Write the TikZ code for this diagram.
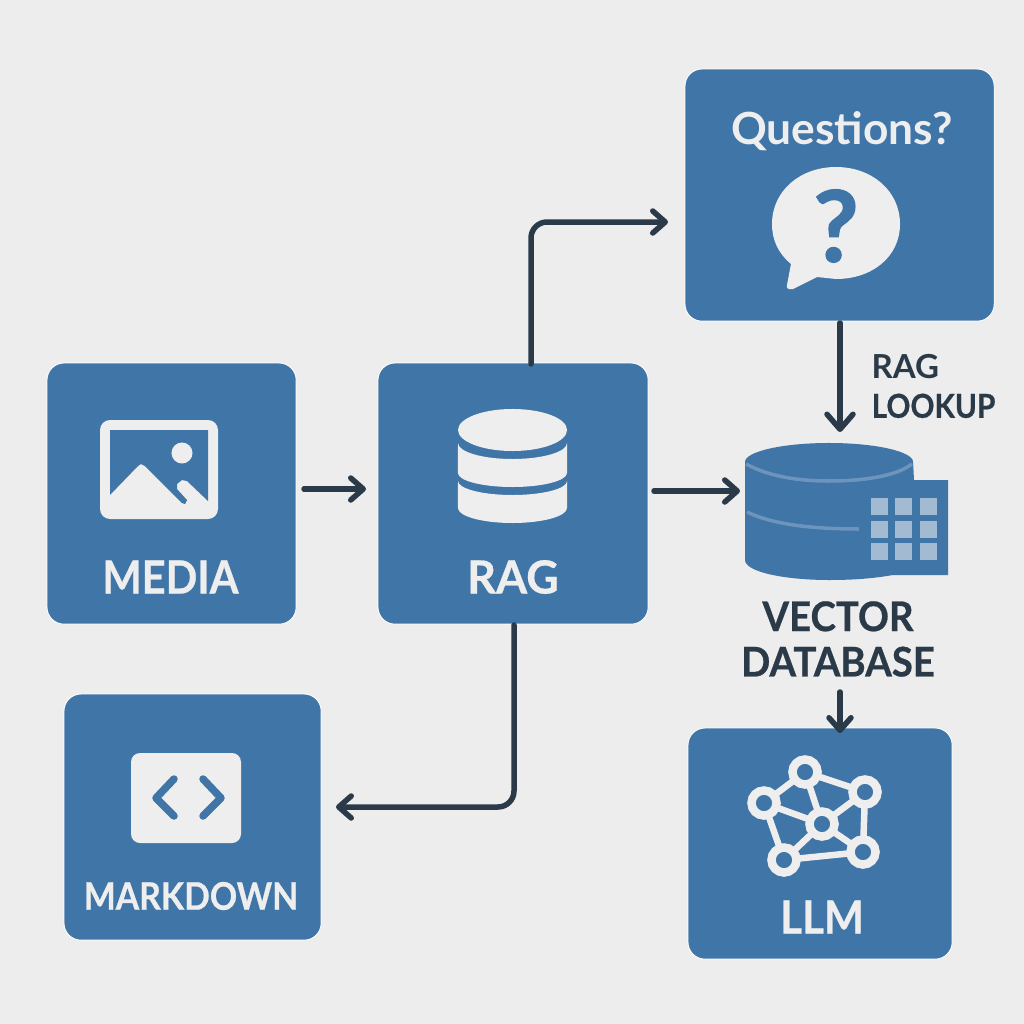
\documentclass[tikz,border=0pt]{standalone}
\usepackage{fontspec}
\setmainfont{Lato}
\usetikzlibrary{arrows.meta}
\definecolor{bg}{HTML}{EDEDED}
\definecolor{blu}{HTML}{4075A8}
\definecolor{dark}{HTML}{2B3A48}
\definecolor{icon}{HTML}{EEEEEE}
\definecolor{cell}{HTML}{A3BAD3}
\definecolor{stripe}{HTML}{6C94BC}
\newcommand{\narrow}[1]{\addfontfeatures{FakeStretch=#1,FakeBold=0.6}}
\tikzset{
 x=0.01cm,y=-0.01cm,
 card/.style={fill=blu,draw=white,line width=0.25pt,rounded corners=0.17cm,inner sep=0,outer sep=0,anchor=north west},
 wlabel/.style={text=icon,font=\bfseries\fontsize{13pt}{13pt}\selectfont,inner sep=0},
 dlabel/.style={text=dark,font=\bfseries\fontsize{11.6pt}{12.9pt}\selectfont,inner sep=0,align=center},
 conn/.style={draw=dark,line width=0.055cm,line cap=round,rounded corners=0.16cm,-{Straight Barb[length=0.125cm,width=0.22cm,line width=0.055cm,round]}},
 bigconn/.style={conn,-{Straight Barb[length=0.15cm,width=0.26cm,line width=0.055cm,round]}},
 ilink/.style={draw=icon,line width=0.065cm},
 nodedot/.style={circle,fill=blu,draw=icon,line width=0.085cm,minimum size=0.25cm,inner sep=0,outer sep=0}
}
\begin{document}
\begin{tikzpicture}
\useasboundingbox (0,0) rectangle (1024,1024);
\fill[bg] (0,0) rectangle (1024,1024);
% cards
\node[card,minimum width=2.49cm,minimum height=2.61cm] (media) at (47,363) {};
\node[card,minimum width=2.70cm,minimum height=2.61cm] (rag) at (378,363) {};
\node[card,minimum width=3.09cm,minimum height=2.52cm] (quest) at (685,69) {};
\node[card,minimum width=2.57cm,minimum height=2.46cm] (mark) at (64,694) {};
\node[card,minimum width=2.64cm,minimum height=2.31cm] (llm) at (688,728) {};
% media icon
\fill[icon,rounded corners=0.1cm] (100,420) rectangle (218,519);
\fill[blu] (110,430) -- (208,430) -- (208,501) -- (187,481) -- (182,480) -- (177,484) -- (177,489) -- (187,500) -- (185,504) -- (182,503) -- (145,466) -- (141,464) -- (138,466) -- (110,495) -- cycle;
\fill[icon] (182,453) circle[radius=0.105cm];
\node[wlabel] (medial) at (170.5,577) {\narrow{0.91}MEDIA};
% rag icon
\fill[icon] (458,430) arc[start angle=180,end angle=-180,x radius=0.545cm,y radius=0.21cm] -- cycle;
\fill[icon] (458,443) arc[start angle=180,end angle=360,x radius=0.545cm,y radius=0.16cm] -- (567,473) arc[start angle=0,end angle=-180,x radius=0.545cm,y radius=0.14cm] -- cycle;
\fill[icon] (458,481) arc[start angle=180,end angle=360,x radius=0.545cm,y radius=0.14cm] -- (567,508) arc[start angle=0,end angle=-180,x radius=0.545cm,y radius=0.15cm] -- cycle;
\node[wlabel] (ragl) at (513,577) {\narrow{0.98}RAG};
% questions
\node[wlabel,font=\bfseries\fontsize{12.6pt}{12.6pt}\selectfont] (questl) at (842,131) {Questions?};
\fill[icon] (836,167) .. controls (872,167) and (900,191) .. (900,224) .. controls (900,257) and (872,279) .. (836,279) -- (817,277) -- (793,289) .. controls (788,290) and (786,288) .. (787,285) -- (791,264) .. controls (778,253) and (772,240) .. (772,224) .. controls (772,191) and (800,167) .. (836,167) -- cycle;
\node[text=blu,font=\bfseries\fontsize{28pt}{28pt}\selectfont,inner sep=0] (qm) at (836,226) {\addfontfeatures{FakeBold=1.5}?};
% markdown
\fill[icon,rounded corners=0.09cm] (131,753) rectangle (241,843);
\draw[blu,line width=0.075cm,line cap=round,line join=round] (174,779) -- (156,798) -- (174,816);
\draw[blu,line width=0.075cm,line cap=round,line join=round] (203,779) -- (221,798) -- (203,816);
\node[wlabel,font=\bfseries\fontsize{10.8pt}{10.8pt}\selectfont] (markl) at (191,896) {\narrow{0.89}MARKDOWN};
% llm
\coordinate (a) at (805,772);
\coordinate (b) at (865,792);
\coordinate (c) at (764,803);
\coordinate (d) at (822,824);
\coordinate (e) at (863,852);
\coordinate (f) at (784,860);
\draw[ilink] (c) -- (a) -- (b) -- (e) -- (f) -- (c) -- (d) -- (a);
\draw[ilink] (b) -- (d) -- (e);
\draw[ilink] (d) -- (f);
\foreach \p in {a,b,c,d,e,f} \node[nodedot] at (\p) {};
\node[wlabel] (llml) at (822,917) {\narrow{0.92}LLM};
% vector db
\fill[blu] (745,462) arc[start angle=180,end angle=0,x radius=0.84cm,y radius=0.19cm] -- (914,480) -- (948,480) -- (948,575) -- (893,575) .. controls (870,579) and (850,580) .. (829,580) .. controls (785,580) and (745,572) .. (745,560) -- cycle;
\draw[stripe,line width=0.035cm] (746,464) .. controls (770,477) and (800,481) .. (829,481) .. controls (860,481) and (895,477) .. (912,464);
\draw[stripe,line width=0.035cm] (747,512) .. controls (770,523) and (805,529) .. (859,529);
\foreach \xx in {871,895,920} \foreach \yy in {498,521,543}
  \fill[cell] (\xx,\yy) rectangle ++(17,17);
\node[dlabel] (vdb) at (838,639) {\narrow{0.94}VECTOR\\\narrow{0.94}DATABASE};
% side label
\node[font=\bfseries\fontsize{9.4pt}{11.3pt}\selectfont,align=left,anchor=west,inner sep=0,text=dark] (ragl2) at (871,386) {RAG\\\narrow{0.9}LOOKUP};
% connector ends
\coordinate (q1) at (531,364);
\coordinate (q2) at (668,222);
\coordinate (m1) at (514,625);
\coordinate (m2) at (336,807);
\coordinate (s1) at (304,489);
\coordinate (s2) at (366,489);
\coordinate (r1) at (654,491);
\coordinate (r2) at (740,491);
\coordinate (l1) at (840,323);
\coordinate (l2) at (840,432);
\coordinate (v1) at (840,692);
\coordinate (v2) at (840,733);
\draw[conn] (q1) |- (q2);
\draw[conn] (m1) |- (m2);
\draw[conn] (s1) -- (s2);
\draw[conn] (r1) -- (r2);
\draw[bigconn] (l1) -- (l2);
\draw[conn] (v1) -- (v2);
\end{tikzpicture}
\end{document}
